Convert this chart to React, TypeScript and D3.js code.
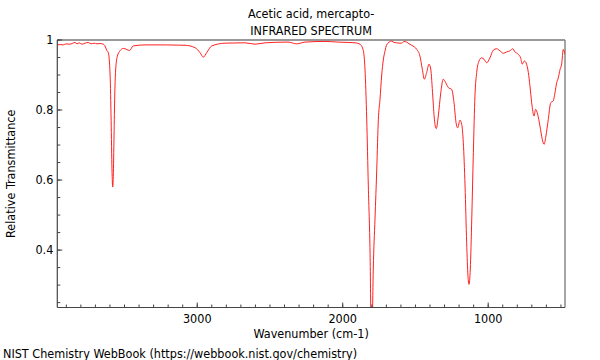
import * as d3 from "d3"

// spectrum (wavenumber in cm-1, relative transmittance)
const wavenumber = [
  3960, 3943, 3922, 3902, 3881, 3860, 3840, 3826, 3812, 3792, 3771, 3750, 3730, 3709, 3689, 3668,
  3647, 3634, 3623, 3611, 3599, 3592, 3586, 3581, 3577, 3572, 3567, 3560, 3549, 3531, 3508, 3485,
  3465, 3441, 3359, 3221, 3084, 3015, 2981, 2958, 2935, 2900, 2809, 2671, 2603, 2534, 2376, 2316,
  2259, 2122, 2032, 1964, 1915, 1881, 1858, 1847, 1835, 1824, 1812, 1805, 1797, 1790, 1778, 1766,
  1755, 1744, 1732, 1721, 1709, 1698, 1663, 1647, 1629, 1613, 1594, 1579, 1560, 1544, 1526, 1491,
  1469, 1453, 1439, 1423, 1407, 1395, 1381, 1370, 1357, 1343, 1326, 1309, 1292, 1274, 1251, 1235,
  1221, 1210, 1194, 1182, 1171, 1159, 1148, 1139, 1132, 1123, 1113, 1102, 1091, 1079, 1063, 1045,
  1029, 1010, 988, 965, 942, 919, 896, 873, 850, 832, 816, 793, 777, 766, 752, 740,
  724, 713, 701, 685, 674, 660, 644, 628, 616, 603, 587, 570, 553, 541, 529, 518,
  506, 495, 484, 472,
]
const transmittance = [
  0.986, 0.987, 0.986, 0.989, 0.988, 0.99, 0.993, 0.989, 0.992, 0.988, 0.991, 0.993, 0.989, 0.991, 0.989, 0.99,
  0.988, 0.983, 0.971, 0.963, 0.9, 0.771, 0.629, 0.58, 0.611, 0.726, 0.843, 0.92, 0.954, 0.969, 0.976, 0.973,
  0.97, 0.983, 0.986, 0.986, 0.985, 0.978, 0.964, 0.951, 0.964, 0.983, 0.991, 0.992, 0.988, 0.992, 0.994, 0.989,
  0.994, 0.996, 0.994, 0.993, 0.992, 0.988, 0.969, 0.917, 0.774, 0.583, 0.391, 0.2, 0.2, 0.346, 0.489, 0.631,
  0.774, 0.829, 0.9, 0.943, 0.969, 0.986, 0.997, 0.993, 0.992, 0.991, 0.991, 0.996, 0.994, 0.989, 0.985, 0.973,
  0.954, 0.917, 0.888, 0.907, 0.931, 0.917, 0.84, 0.774, 0.747, 0.783, 0.849, 0.888, 0.878, 0.864, 0.859, 0.821,
  0.764, 0.749, 0.771, 0.759, 0.707, 0.583, 0.421, 0.326, 0.302, 0.346, 0.489, 0.678, 0.84, 0.907, 0.94, 0.949,
  0.945, 0.935, 0.949, 0.971, 0.975, 0.969, 0.962, 0.966, 0.969, 0.975, 0.966, 0.959, 0.949, 0.931, 0.94, 0.935,
  0.907, 0.869, 0.821, 0.783, 0.802, 0.788, 0.754, 0.716, 0.702, 0.726, 0.773, 0.821, 0.826, 0.849, 0.878, 0.892,
  0.916, 0.931, 0.973, 0.959,
]

const xMajorTicks = [3000, 2000, 1000]
const yMajorTicks = [0.4, 0.6, 0.8, 1]

const title = "Acetic acid, mercapto-"
const subtitle = "INFRARED SPECTRUM"
const xTitle = "Wavenumber (cm-1)"
const yTitle = "Relative Transmittance"
const footer = "NIST Chemistry WebBook (https://webbook.nist.gov/chemistry)"

const FONT = "'DejaVu Sans Condensed', 'DejaVu Sans', sans-serif"

export default function App() {
  const W = 600
  const H = 360
  const left = 57.3
  const right = 565
  const top = 40
  const bottom = 307.5

  const x = d3.scaleLinear().domain([3962, 472]).range([left, right])
  const y = d3.scaleLinear().domain([0.236, 1]).range([bottom, top])

  const points: [number, number][] = wavenumber.map((w, i) => [w, transmittance[i]])
  const line = d3
    .line<[number, number]>()
    .x((d) => x(d[0]))
    .y((d) => y(d[1]))
    .curve(d3.curveMonotoneX)

  const xMinor = d3.range(500, 3901, 100)
  const yMinor = d3.range(0.25, 1.0001, 0.05)
  const cx = (left + right) / 2

  return (
    <svg
      width={W}
      height={H}
      style={{ position: "absolute", left: 0, top: 0, background: "#fff" }}
      fontFamily={FONT}
      fontSize={12.5}
    >
      <defs>
        <clipPath id="plot">
          <rect x={left} y={top} width={right - left} height={bottom - top} />
        </clipPath>
      </defs>

      {/* title */}
      <text x={cx} y={17.5} textAnchor="middle" fill="#000">{title}</text>
      <text x={cx} y={34.5} textAnchor="middle" fill="#000">{subtitle}</text>

      {/* frame: grey top / right */}
      <line x1={left} x2={right} y1={top} y2={top} stroke="#999" strokeWidth={2} />
      <line x1={right} x2={right} y1={top} y2={bottom} stroke="#888" strokeWidth={1.5} />

      {/* spectrum */}
      <path d={line(points) || ""} fill="none" stroke="#ff2020" strokeWidth={1} clipPath="url(#plot)" />

      {/* y axis */}
      <line x1={left} x2={left} y1={top} y2={bottom} stroke="#444" strokeWidth={1.2} />
      {yMinor.map((v) => (
        <line key={"ym" + v} x1={left} x2={left + 3} y1={y(v)} y2={y(v)} stroke="#444" />
      ))}
      {yMajorTicks.map((v) => (
        <g key={"y" + v}>
          <line x1={left} x2={left + 5} y1={y(v)} y2={y(v)} stroke="#444" />
          <text x={left - 4} y={y(v)} dy="0.35em" textAnchor="end" fill="#000">
            {String(v)}
          </text>
        </g>
      ))}

      {/* x axis */}
      <line x1={left} x2={right} y1={bottom} y2={bottom} stroke="#444" strokeWidth={1.2} />
      {xMinor.map((v) => (
        <line key={"xm" + v} x1={x(v)} x2={x(v)} y1={bottom} y2={bottom - 3} stroke="#444" />
      ))}
      {xMajorTicks.map((v) => (
        <g key={"x" + v}>
          <line x1={x(v)} x2={x(v)} y1={bottom} y2={bottom - 5} stroke="#444" />
          <text x={x(v)} y={322.5} textAnchor="middle" fill="#000">
            {String(v)}
          </text>
        </g>
      ))}

      <text x={cx} y={337.5} textAnchor="middle" fill="#000">{xTitle}</text>
      <text transform={`translate(15,${(top + bottom) / 2}) rotate(-90)`} textAnchor="middle" fill="#000">
        {yTitle}
      </text>
      <text x={3} y={357.5} fill="#000">{footer}</text>
    </svg>
  )
}
